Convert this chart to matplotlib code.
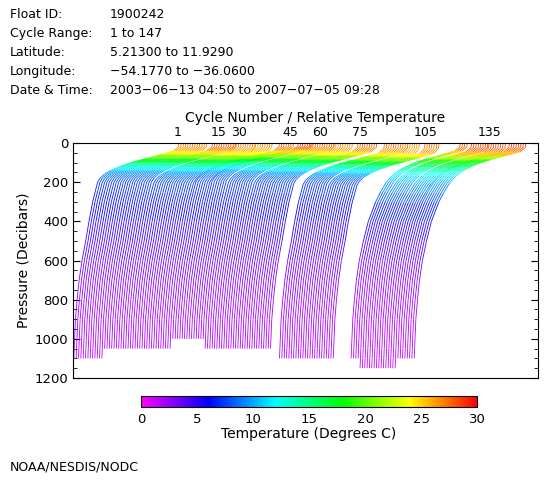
import numpy as np
import matplotlib
matplotlib.use("Agg")
import matplotlib.pyplot as plt
from matplotlib.collections import LineCollection
from matplotlib.colors import LinearSegmentedColormap, Normalize
from matplotlib.cm import ScalarMappable
from matplotlib.ticker import MultipleLocator

# header info
info_keys = ["Float ID:", "Cycle Range:", "Latitude:", "Longitude:", "Date & Time:"]
info_vals = ["1900242", "1 to 147", "5.21300 to 11.9290", "\u221254.1770 to \u221236.0600",
             "2003\u221206\u221213 04:50 to 2007\u221207\u221205 09:28"]

# reference temperature profiles (southern / northern part of the track)
pres_levels = [0, 20, 40, 60, 80, 100, 120, 140, 160, 180, 200, 250, 300,
               400, 500, 600, 700, 800, 900, 1000, 1050, 1100, 1150]
temp_south = [27.0, 26.9, 25.8, 22.5, 19.0, 15.5, 12.8, 10.6, 9.0, 8.0, 7.4, 6.8, 6.2,
              5.3, 4.5, 3.6, 2.9, 2.4, 2.0, 1.8, 1.7, 1.6, 1.5]
temp_north = [28.3, 28.2, 27.0, 23.5, 20.0, 17.0, 14.8, 13.0, 11.8, 10.8, 10.0, 8.6, 7.4,
              5.6, 4.4, 3.4, 2.7, 2.2, 1.8, 1.6, 1.5, 1.4, 1.3]
# how much of a surface / thermocline change reaches each level
sst_weight = [1, 1, 0.7, 0.4, 0.2, 0, 0, 0, 0, 0, 0, 0, 0,
              0, 0, 0, 0, 0, 0, 0, 0, 0, 0]
dz_weight = [0, 0.5, 1, 1, 1, 1, 1, 1, 1, 1, 1, 0.7, 0.4,
             0, 0, 0, 0, 0, 0, 0, 0, 0, 0]

# groups of cycles (86-88, 113-119 not plotted)
seg_first = [1, 14, 25, 35, 43, 50, 57, 68, 77, 89, 100, 106, 120, 124, 132, 140]
seg_last = [13, 24, 34, 42, 49, 56, 67, 76, 85, 99, 105, 112, 123, 131, 139, 147]
seg_pmax = [1100, 1050, 1050, 1050, 1000, 1000, 1050, 1050, 1050, 1100, 1100, 1100,
            1100, 1150, 1150, 1100]
seg_sst = [27.2, 28.0, 27.0, 26.6, 27.8, 28.4, 27.5, 26.8, 27.6, 27.2, 26.6, 27.4,
           28.0, 28.5, 28.2, 28.6]
seg_dz = [0, 0, 5, 5, 0, -5, 0, 5, 5, 10, 15, 15, 0, 5, 10, 5]
seg_type = ["S"] * 12 + ["N"] * 4

# top axis labels
label_cycles = [1, 15, 30, 45, 60, 75, 105, 135]
label_pos = [25.6, 35.6, 40.5, 52.9, 60.2, 70.0, 85.9, 101.7]

first_x = 25.6      # surface position of cycle 1
cycle_step = 0.57   # shift per cycle

cmap = LinearSegmentedColormap.from_list(
    "nodc", ["#ff00ff", "#0000ff", "#00ffff", "#00ff00", "#ffff00", "#ff0000"])
norm = Normalize(0, 30)

p_ref = np.array(pres_levels, float)
segs = []
seg_t = []
for i in range(len(seg_first)):
    tref = np.array(temp_south if seg_type[i] == "S" else temp_north)
    t = tref + (seg_sst[i] - tref[0]) * np.array(sst_weight)
    p = p_ref + seg_dz[i] * np.array(dz_weight)
    keep = p_ref <= seg_pmax[i]
    t, p = t[keep], p[keep]
    for c in range(seg_first[i], seg_last[i] + 1):
        base = first_x + cycle_step * (c - 1)
        x = base + t - 27.0
        pts = np.column_stack([x, p])
        segs.extend(np.stack([pts[:-1], pts[1:]], axis=1))
        seg_t.extend((t[:-1] + t[1:]) / 2)

fig = plt.figure(figsize=(5.6, 4.8), dpi=100)
plt.rcParams["font.family"] = "DejaVu Sans"

ax = fig.add_axes([73 / 560, 1 - 378 / 480, 465 / 560, 235 / 480])
lc = LineCollection(segs, cmap=cmap, norm=norm, linewidths=0.6)
lc.set_array(np.array(seg_t))
ax.add_collection(lc)
ax.set_xlim(0, 465 / 4.1)
ax.set_ylim(1200, 0)

ax.xaxis.tick_top()
ax.set_xticks(label_pos)
ax.set_xticklabels([str(c) for c in label_cycles], fontsize=9)
ax.tick_params(axis="x", length=0, pad=3)
ax.set_xlabel("Cycle Number / Relative Temperature", fontsize=10)
ax.xaxis.set_label_position("top")
ax.xaxis.set_label_coords(0.52, 1.09)

ax.set_yticks(range(0, 1201, 200))
ax.yaxis.set_minor_locator(MultipleLocator(50))
ax.tick_params(axis="y", which="both", direction="in", left=True, right=True, labelsize=9.5)
ax.tick_params(axis="y", which="major", length=5)
ax.tick_params(axis="y", which="minor", length=3)
ax.set_ylabel("Pressure (Decibars)", fontsize=10, labelpad=3)
for s in ax.spines.values():
    s.set_linewidth(0.8)

# header
for k, (key, val) in enumerate(zip(info_keys, info_vals)):
    y = 1 - (15 + 18.8 * k) / 480
    fig.text(10 / 560, y, key, fontsize=9, va="center")
    fig.text(110 / 560, y, val, fontsize=9, va="center")

# colorbar
cax = fig.add_axes([141 / 560, 1 - 407 / 480, 336 / 560, 11 / 480])
cb = fig.colorbar(ScalarMappable(norm=norm, cmap=cmap), cax=cax, orientation="horizontal")
cb.set_ticks(range(0, 31, 5))
cax.tick_params(length=0, labelsize=9.5, pad=4)
cb.set_label("Temperature (Degrees C)", fontsize=10, labelpad=1)
cb.outline.set_linewidth(0.8)

fig.text(10 / 560, 1 - 467 / 480, "NOAA/NESDIS/NODC", fontsize=9, va="center")

fig.savefig("out.png", dpi=100)
